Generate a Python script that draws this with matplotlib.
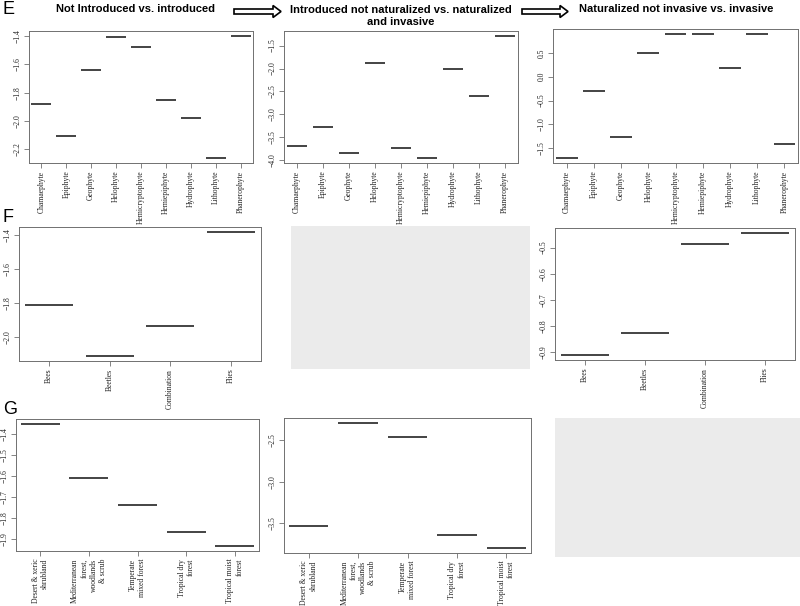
import matplotlib

matplotlib.use("Agg")
import matplotlib.pyplot as plt
from matplotlib.patches import FancyArrow, Rectangle

# --- data -------------------------------------------------------------------
life_forms = ["Chamaephyte", "Epiphyte", "Geophyte", "Helophyte", "Hemicryptophyte",
              "Hemiepiphyte", "Hydrophyte", "Lithophyte", "Phanerophyte"]
e_intro = [-1.88, -2.107, -1.64, -1.407, -1.479, -1.852, -1.98, -2.262, -1.398]
e_natur = [-3.69, -3.28, -3.83, -1.88, -3.72, -3.95, -2.01, -2.59, -1.29]
e_invas = [-1.71, -0.31, -1.27, 0.51, 0.90, 0.90, 0.19, 0.90, -1.41]

pollinators = ["Bees", "Beetles", "Combination", "Flies"]
f_intro = [-1.81, -2.113, -1.937, -1.38]
f_invas = [-0.91, -0.824, -0.487, -0.444]

biomes = ["Desert & xeric\nshrubland", "Mediterranean\nforest,\nwoodlands\n& scrub",
          "Temperate\nmixed forest", "Tropical dry\nforest", "Tropical moist\nforest"]
g_intro = [-1.353, -1.61, -1.74, -1.868, -1.933]
g_natur = [-3.53, -2.29, -2.455, -3.646, -3.80]

e_intro_ticks = [-1.4, -1.6, -1.8, -2.0, -2.2]
e_natur_ticks = [-1.5, -2.0, -2.5, -3.0, -3.5, -4.0]
e_invas_ticks = [0.5, 0.0, -0.5, -1.0, -1.5]
f_intro_ticks = [-1.4, -1.6, -1.8, -2.0]
f_invas_ticks = [-0.5, -0.6, -0.7, -0.8, -0.9]
g_intro_ticks = [-1.4, -1.5, -1.6, -1.7, -1.8, -1.9]
g_natur_ticks = [-2.5, -3.0, -3.5]

titles = ["Not Introduced vs. introduced",
          "Introduced not naturalized vs. naturalized\nand invasive",
          "Naturalized not invasive vs. invasive"]

W, H = 800, 606
FRAME = "#707070"
SERIF = "Liberation Serif"
SANS = "Liberation Sans"

fig = plt.figure(figsize=(W / 100, H / 100), dpi=100)


def box(l, t, r, b):
    return [l / W, 1 - b / H, (r - l) / W, (b - t) / H]


def panel(rect, cats, vals, ticks):
    ax = fig.add_axes(box(*rect))
    n = len(cats)
    xs = range(1, n + 1)
    for x, v in zip(xs, vals):
        ax.hlines(v, x - 0.4, x + 0.4, color="#111111", lw=1.1)
    lo, hi = min(vals), max(vals)
    pad = (hi - lo) * 0.04
    ax.set_xlim(0.5, n + 0.5)
    ax.set_ylim(lo - pad, hi + pad)
    ax.set_xticks(list(xs))
    ax.set_xticklabels(cats, rotation=90, family=SERIF, fontsize=5.5,
                       va="top", ha="center", multialignment="right")
    ax.set_yticks(ticks)
    ax.set_yticklabels([f"{t:.1f}".replace("-", "\u2212") for t in ticks],
                       rotation=90, va="center", family=SERIF, fontsize=5.5)
    ax.tick_params(direction="out", length=3.5, width=0.6, color=FRAME,
                   labelcolor="#222222", pad=2)
    for s in ax.spines.values():
        s.set_color(FRAME)
        s.set_linewidth(0.7)
    return ax


def blank(l, t, r, b):
    fig.add_artist(Rectangle((l / W, 1 - b / H), (r - l) / W, (b - t) / H,
                             transform=fig.transFigure, facecolor="#ebebeb",
                             edgecolor="none"))


# row E
panel((29, 31, 253, 163), life_forms, e_intro, e_intro_ticks)
panel((284, 31, 518, 163), life_forms, e_natur, e_natur_ticks)
panel((553, 29, 798, 163), life_forms, e_invas, e_invas_ticks)
# row F
panel((19, 227, 261, 361), pollinators, f_intro, f_intro_ticks)
blank(291, 226, 530, 369)
panel((555, 228, 795, 360), pollinators, f_invas, f_invas_ticks)
# row G
panel((16, 419, 259, 551), biomes, g_intro, g_intro_ticks)
panel((284, 418, 531, 553), biomes, g_natur, g_natur_ticks)
blank(555, 418, 800, 557)

# panel letters
for letter, y in [("E", 10), ("F", 218), ("G", 409)]:
    fig.text(3 / W, 1 - y / H, letter, family=SANS, fontsize=13, va="center", ha="left")

# column titles
for title, x, y in [(titles[0], 135, 9), (titles[1], 401, 16), (titles[2], 676, 9)]:
    fig.text(x / W, 1 - y / H, title, family=SANS, fontweight="bold", fontsize=8,
             ha="center", va="center", linespacing=1.15)

# arrows between titles
for x0, x1 in [(234, 281), (522, 568)]:
    fig.add_artist(FancyArrow(x0 / W, 1 - 11.5 / H, (x1 - x0) / W, 0,
                              width=5 / H, head_width=12 / H, head_length=8 / W,
                              length_includes_head=True, transform=fig.transFigure,
                              facecolor="white", edgecolor="black", lw=1.2))

fig.savefig("out.png", dpi=100)
